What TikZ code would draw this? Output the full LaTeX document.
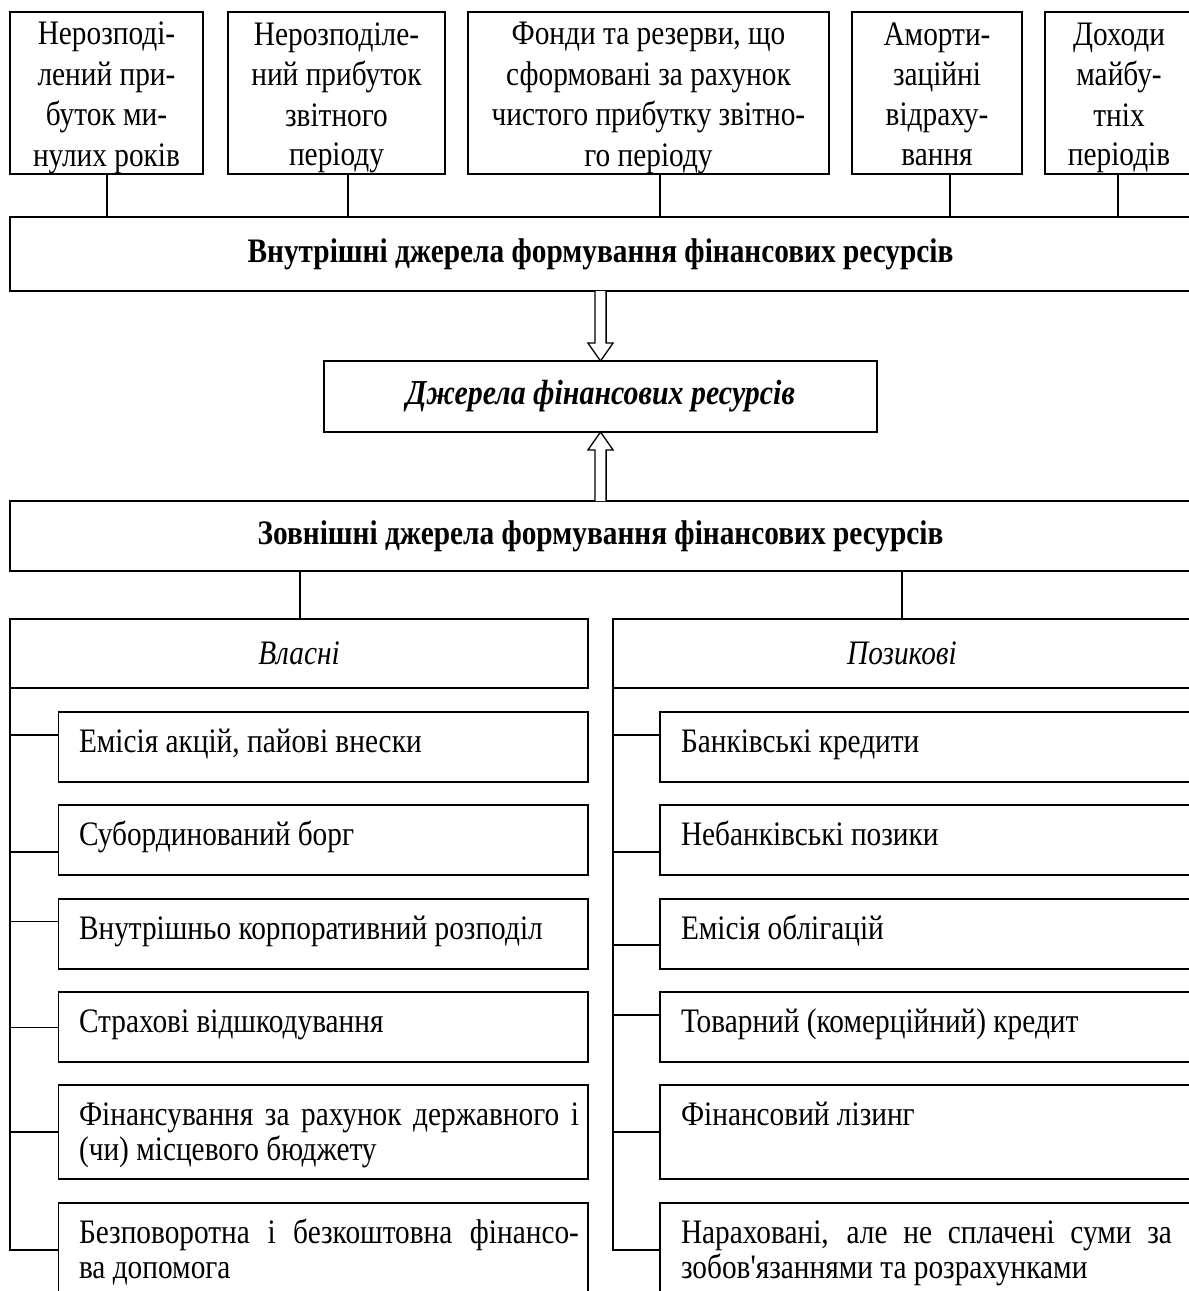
\documentclass[tikz,border=0pt]{standalone}
\usepackage{fontspec}
\setmainfont{Liberation Serif}[Ligatures=TeXOff, FakeStretch=0.855]
\usetikzlibrary{calc}
\newcommand\tstrut{\rule[-7.1pt]{0pt}{39.4pt}}
\newcommand\stln[1]{\tstrut#1}
\begin{document}
\begin{tikzpicture}[x=1pt,y=-1pt,
  bx/.style={draw, line width=1.4pt, rectangle, inner sep=0pt, outer sep=0pt, fill=white},
  topbox/.style={bx, minimum height=162pt, align=center, font=\fontsize{34.3}{39.4}\selectfont},
  hdr/.style={bx, font=\fontsize{34.3}{39}\selectfont\bfseries},
  sub/.style={bx, minimum height=69pt, font=\fontsize{34.3}{39}\selectfont\itshape},
  item/.style={bx},
  itxt/.style={inner sep=0pt, outer sep=0pt, anchor=base west, align=left, font=\fontsize{34.3}{35}\selectfont},
  ln/.style={line width=1.4pt},
  hollow/.style={line width=1.3pt, fill=white, line join=miter}
]
\useasboundingbox (0,0) rectangle (1189,1291);
\clip (0,0) rectangle (1189,1291);

% top boxes
\node[topbox, minimum width=193pt] (t1) at (106.5,93) {\stln{Нерозподі-}\\\stln{лений при-}\\\stln{буток ми-}\\\stln{нулих років}};
\node[topbox, minimum width=217pt] (t2) at (336.5,93) {\stln{Нерозподіле-}\\\stln{ний прибуток}\\\stln{звітного}\\\stln{періоду}};
\node[topbox, minimum width=361pt] (t3) at (648.5,93) {\stln{Фонди та резерви, що}\\\stln{сформовані за рахунок}\\\stln{чистого прибутку звітно-}\\\stln{го періоду}};
\node[topbox, minimum width=170pt] (t4) at (937,93) {\stln{Аморти-}\\\stln{заційні}\\\stln{відраху-}\\\stln{вання}};
\node[topbox, minimum width=148pt] (t5) at (1119,93) {\stln{Доходи}\\\stln{майбу-}\\\stln{тніх}\\\stln{періодів}};

% internal sources
\node[hdr, minimum width=1181pt, minimum height=74pt] (inner) at (600.5,254) {Внутрішні джерела формування фінансових ресурсів};
\foreach \xx/\nn in {107/t1,348/t2,660/t3,950/t4,1118/t5}
  \draw[ln] (\xx,0 |- \nn.south) -- (\xx,0 |- inner.north);

% central box
\node[bx, minimum width=553pt, minimum height=71pt, font=\fontsize{35}{40}\selectfont\bfseries\itshape] (src) at (600.5,396.5) {Джерела фінансових ресурсів};

% external sources
\node[hdr, minimum width=1181pt, minimum height=70pt] (outer) at (600.5,536) {Зовнішні джерела формування фінансових ресурсів};

% hollow arrows
\draw[hollow] (inner.south) ++(-5.6,0) -- ++(0,52) -- ++(-7,0) -- (src.north) -- ++(12.6,-18) -- ++(-7,0) -- ++(0,-52);
\draw[hollow] (outer.north) ++(-5.6,0) -- ++(0,-51) -- ++(-7,0) -- (src.south) -- ++(12.6,18) -- ++(-7,0) -- ++(0,51);

% own / borrowed
\node[sub, minimum width=578pt] (own) at (299,653.5) {Власні};
\node[sub, minimum width=578pt] (loan) at (902,653.5) {Позикові};
\draw[ln] (300,0 |- outer.south) -- (300,0 |- own.north);
\draw[ln] (902,0 |- outer.south) -- (902,0 |- loan.north);

% left items
\node[item, minimum width=529.4pt, minimum height=70pt] (l1) at (323.3,747) {};
\node[item, minimum width=529.4pt, minimum height=70pt] (l2) at (323.3,840) {};
\node[item, minimum width=529.4pt, minimum height=70pt] (l3) at (323.3,934) {};
\node[item, minimum width=529.4pt, minimum height=70pt] (l4) at (323.3,1027) {};
\node[item, minimum width=529.4pt, minimum height=94pt] (l5) at (323.3,1132) {};
\node[item, minimum width=529.4pt, minimum height=100pt] (l6) at (323.3,1253) {};

\node[itxt] (l1t) at (79,752) {Емісія акцій, пайові внески};
\node[itxt] (l2t) at (79,845) {Субординований борг};
\node[itxt] (l3t) at (79,939) {Внутрішньо корпоративний розподіл};
\node[itxt] (l4t) at (79,1032) {Страхові відшкодування};
\node[itxt, text width=500pt] (l5t) at (79,1125) {\spaceskip=0pt\xspaceskip=0pt\relax\makebox[500pt][s]{Фінансування за рахунок державного і}\\(чи) місцевого бюджету};
\node[itxt, text width=500pt] (l6t) at (79,1243) {\spaceskip=0pt\xspaceskip=0pt\relax\makebox[500pt][s]{Безповоротна і безкоштовна фінансо-}\\ва допомога};

% left spine
\draw[ln] (own.south west) |- (l6.west |- 0,1250);
\foreach \yy/\nn in {735/l1,852/l2,921.5/l3,1027.5/l4,1132/l5}
  \draw[ln] (own.south west |- 0,\yy) -- (\nn.west |- 0,\yy);

% right items
\node[item, minimum width=531pt, minimum height=70pt] (r1) at (925.5,747) {};
\node[item, minimum width=531pt, minimum height=70pt] (r2) at (925.5,840) {};
\node[item, minimum width=531pt, minimum height=70pt] (r3) at (925.5,934) {};
\node[item, minimum width=531pt, minimum height=70pt] (r4) at (925.5,1027) {};
\node[item, minimum width=531pt, minimum height=94pt] (r5) at (925.5,1132) {};
\node[item, minimum width=531pt, minimum height=100pt] (r6) at (925.5,1253) {};

\node[itxt] (r1t) at (681,752) {Банківські кредити};
\node[itxt] (r2t) at (681,845) {Небанківські позики};
\node[itxt] (r3t) at (681,939) {Емісія облігацій};
\node[itxt] (r4t) at (681,1032) {Товарний (комерційний) кредит};
\node[itxt] (r5t) at (681,1125) {Фінансовий лізинг};
\node[itxt, text width=491pt] (r6t) at (681,1243) {\spaceskip=0pt\xspaceskip=0pt\relax\makebox[491pt][s]{Нараховані, але не сплачені суми за}\\зобов'язаннями та розрахунками};

% right spine
\draw[ln] (loan.south west) |- (r6.west |- 0,1250);
\foreach \yy/\nn in {735/r1,852/r2,945/r3,1015/r4,1132/r5}
  \draw[ln] (loan.south west |- 0,\yy) -- (\nn.west |- 0,\yy);
\end{tikzpicture}
\end{document}
